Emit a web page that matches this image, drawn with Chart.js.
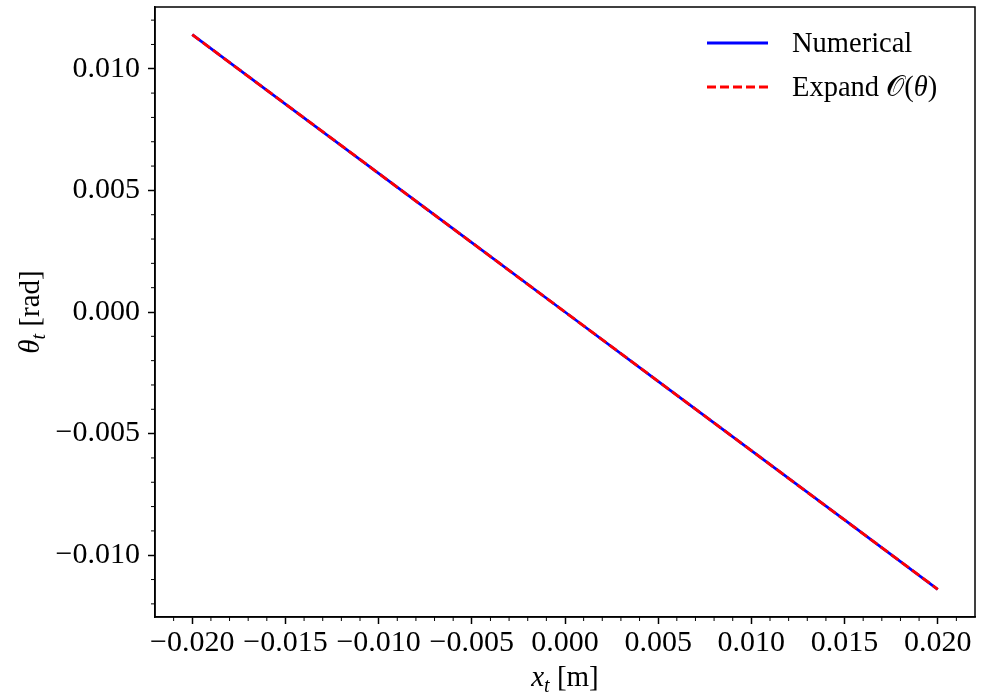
<!DOCTYPE html>
<html>
<head>
<meta charset="utf-8">
<script src="https://cdn.jsdelivr.net/npm/chart.js@4"></script>
<style>
  html, body { margin: 0; padding: 0; background: #fff; }
  canvas { display: block; }
</style>
</head>
<body>
<canvas id="chart" width="989" height="694"></canvas>
<script>
const xValues = [-0.020, -0.015, -0.010, -0.005, 0.000, 0.005, 0.010, 0.015, 0.020];
const numerical = [0.01140, 0.00855, 0.00570, 0.00285, 0.00000, -0.00285, -0.00570, -0.00855, -0.01140];
const expanded = [0.01140, 0.00855, 0.00570, 0.00285, 0.00000, -0.00285, -0.00570, -0.00855, -0.01140];
const xTicks = [-0.020, -0.015, -0.010, -0.005, 0.000, 0.005, 0.010, 0.015, 0.020];
const yTicks = [-0.010, -0.005, 0.000, 0.005, 0.010];
const seriesLabels = ['Numerical', 'Expand 𝒪(θ)'];

const SERIF = "'Liberation Serif', 'DejaVu Serif', serif";

function fmt(v) {
    return (v < 0 ? '\u2212' : '') + Math.abs(v).toFixed(3);
}

function toPoints(ys) {
    return xValues.map((x, i) => ({ x: x, y: ys[i] }));
}

// draws a run of text pieces with their own fonts / baseline shifts
function drawPieces(ctx, pieces, x, y, align) {
    let total = 0;
    pieces.forEach(p => { ctx.font = p.font; total += ctx.measureText(p.text).width; });
    let cx = align === 'center' ? x - total / 2 : x;
    pieces.forEach(p => {
        ctx.font = p.font;
        ctx.fillText(p.text, cx, y + (p.dy || 0));
        cx += ctx.measureText(p.text).width;
    });
}

const framePlugin = {
    id: 'frame',
    afterDraw(chart) {
        const ctx = chart.ctx;
        const { left, right, top, bottom } = chart.chartArea;
        const xs = chart.scales.x;
        const ys = chart.scales.y;
        ctx.save();
        ctx.strokeStyle = '#000';
        ctx.lineWidth = 1.5;
        ctx.strokeRect(left, top, right - left, bottom - top);

        // minor ticks
        ctx.lineWidth = 1;
        ctx.beginPath();
        for (let i = -21; i <= 21; i++) {
            if (i % 5 === 0) continue;
            const px = xs.getPixelForValue(i / 1000);
            ctx.moveTo(px, bottom);
            ctx.lineTo(px, bottom + 4);
        }
        for (let i = -12; i <= 12; i++) {
            if (i % 5 === 0) continue;
            const py = ys.getPixelForValue(i / 1000);
            ctx.moveTo(left, py);
            ctx.lineTo(left - 4, py);
        }
        ctx.stroke();

        // legend
        const ds = chart.data.datasets;
        const rows = [43, 87];
        ds.forEach((d, i) => {
            ctx.strokeStyle = d.borderColor;
            ctx.lineWidth = d.borderWidth;
            ctx.setLineDash(d.borderDash || []);
            ctx.beginPath();
            ctx.moveTo(707, rows[i]);
            ctx.lineTo(768, rows[i]);
            ctx.stroke();
        });
        ctx.setLineDash([]);
        ctx.fillStyle = '#000';
        ctx.textBaseline = 'middle';
        ctx.textAlign = 'left';
        ctx.font = '28.5px ' + SERIF;
        ctx.fillText(seriesLabels[0], 792, rows[0] + 2);
        drawPieces(ctx, [
            { text: 'Expand ', font: '28.5px ' + SERIF },
            { text: '𝒪', font: '28.5px ' + SERIF },
            { text: '(', font: '28.5px ' + SERIF },
            { text: 'θ', font: 'italic 28.5px ' + SERIF },
            { text: ')', font: '28.5px ' + SERIF }
        ], 792, rows[1] + 2, 'left');

        // axis titles
        ctx.textBaseline = 'alphabetic';
        drawPieces(ctx, [
            { text: 'x', font: 'italic 29px ' + SERIF },
            { text: 't', font: 'italic 20px ' + SERIF, dy: 6 },
            { text: ' [m]', font: '29px ' + SERIF }
        ], (left + right) / 2, 686, 'center');

        ctx.save();
        ctx.translate(39, (top + bottom) / 2);
        ctx.rotate(-Math.PI / 2);
        drawPieces(ctx, [
            { text: 'θ', font: 'italic 29px ' + SERIF },
            { text: 't', font: 'italic 20px ' + SERIF, dy: 6 },
            { text: ' [rad]', font: '29px ' + SERIF }
        ], 0, 0, 'center');
        ctx.restore();

        ctx.restore();
    }
};

const tickFont = { family: SERIF, size: 30 };

new Chart(document.getElementById('chart'), {
    type: 'line',
    data: {
        datasets: [
            {
                label: seriesLabels[0],
                data: toPoints(numerical),
                borderColor: '#0000ff',
                borderWidth: 2.8,
                pointRadius: 0,
                fill: false,
                order: 2
            },
            {
                label: seriesLabels[1],
                data: toPoints(expanded),
                borderColor: '#ff0000',
                borderWidth: 2.8,
                borderDash: [9, 4],
                pointRadius: 0,
                fill: false,
                order: 1
            }
        ]
    },
    options: {
        responsive: false,
        animation: false,
        layout: { padding: { top: 7, right: 14, left: 0, bottom: 0 } },
        plugins: { legend: { display: false }, tooltip: { enabled: false } },
        scales: {
            x: {
                type: 'linear',
                min: -0.022,
                max: 0.022,
                afterBuildTicks: s => { s.ticks = xTicks.map(v => ({ value: v })); },
                afterFit: s => { s.height = 77; s.paddingLeft = 0; s.paddingRight = 0; },
                ticks: { callback: fmt, color: '#000', font: tickFont, padding: 1, maxRotation: 0, autoSkip: false },
                grid: { drawOnChartArea: false, tickLength: 7, tickWidth: 1.5, tickColor: '#000' },
                border: { color: '#000', width: 1.5 }
            },
            y: {
                type: 'linear',
                min: -0.01254,
                max: 0.01254,
                afterBuildTicks: s => { s.ticks = yTicks.map(v => ({ value: v })); },
                afterFit: s => { s.width = 155; s.paddingTop = 0; s.paddingBottom = 0; },
                ticks: { callback: fmt, color: '#000', font: tickFont, padding: 8, autoSkip: false },
                grid: { drawOnChartArea: false, tickLength: 7, tickWidth: 1.5, tickColor: '#000' },
                border: { color: '#000', width: 1.5 }
            }
        }
    },
    plugins: [framePlugin]
});
</script>
</body>
</html>
